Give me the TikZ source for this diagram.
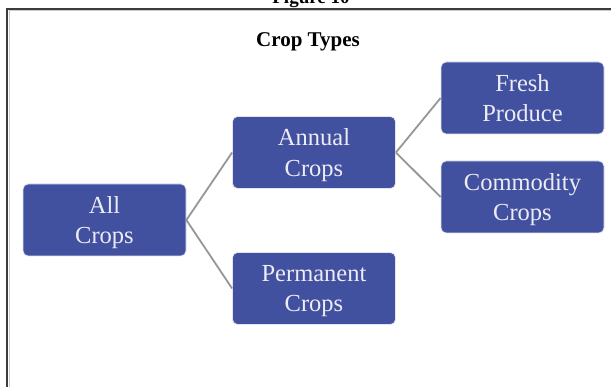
\documentclass[tikz,border=0pt]{standalone}
\usepackage{fontspec}
\setmainfont{Liberation Serif}
\definecolor{boxblue}{RGB}{66,80,160}
\definecolor{boxtext}{RGB}{236,236,244}
\definecolor{linkgray}{RGB}{150,150,150}
\definecolor{framegray}{RGB}{60,60,60}
\begin{document}
\begin{tikzpicture}[x=1pt,y=-1pt,
  cropbox/.style={draw=white!85!boxblue, line width=0.8pt, fill=boxblue, rounded corners=5pt,
    minimum width=163pt, minimum height=72pt, text=boxtext, align=center,
    font=\fontsize{24.5}{30.5}\selectfont, inner sep=0pt, text depth=0pt},
  link/.style={draw=linkgray, line width=1.8pt},
  frame/.style={draw=framegray, line width=2pt}]
\useasboundingbox (0,0) rectangle (611,387);
\clip (0,0) rectangle (611,387);
\node[anchor=base, font=\bfseries\fontsize{19}{22}\selectfont] (fig) at (311,4) {Figure 10};
\coordinate (fbl) at (7,390);
\coordinate (ftl) at (7,9);
\coordinate (ftr) at (614,9);
\draw[frame] (fbl) -- (ftl) -- (ftr);
\draw[draw=gray!40, line width=1pt] (9,390) -- (9,11) -- (614,11);
\node[font=\bfseries\fontsize{21}{24}\selectfont] (title) at (308,42) {Crop Types};
\node[cropbox] (all) at (104.5,220) {All\\Crops};
\node[cropbox] (annual) at (314,152.5) {Annual\\Crops};
\node[cropbox] (perm) at (314,288.5) {Permanent\\Crops};
\node[cropbox] (fresh) at (522.5,98) {Fresh\\Produce};
\node[cropbox] (comm) at (522.5,197) {Commodity\\Crops};
\draw[link] (all.east) -- (annual.west);
\draw[link] (all.east) -- (perm.west);
\draw[link] (annual.east) -- (fresh.west);
\draw[link] (annual.east) -- (comm.west);
\end{tikzpicture}
\end{document}
